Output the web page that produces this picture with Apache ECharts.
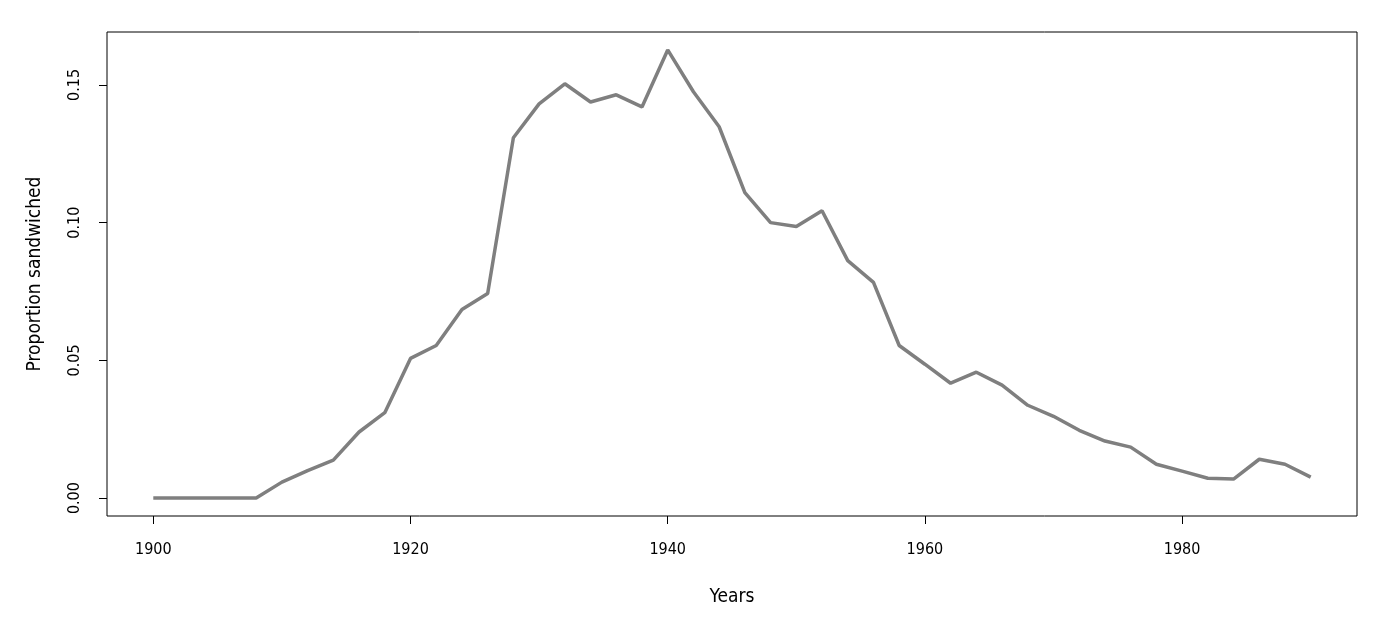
<!DOCTYPE html>
<html><head><meta charset="utf-8">
<script src="https://cdn.jsdelivr.net/npm/echarts@6/dist/echarts.min.js"></script>
<style>html,body{margin:0;background:#fff}#c{width:1394px;height:626px}</style>
</head><body><div id="c"></div>
<script>
const years=[1900,1902,1904,1906,1908,1910,1912,1914,1916,1918,1920,1922,1924,1926,1928,1930,1932,1934,1936,1938,1940,1942,1944,1946,1948,1950,1952,1954,1956,1958,1960,1962,1964,1966,1968,1970,1972,1974,1976,1978,1980,1982,1984,1986,1988,1990];
const proportion=[0,0,0,0,0,0.0058,0.010,0.0138,0.024,0.031,0.0507,0.0554,0.0685,0.0743,0.1308,0.1431,0.1504,0.1438,0.1464,0.142,0.1627,0.1475,0.1348,0.1109,0.100,0.0986,0.1043,0.0862,0.0783,0.0554,0.0486,0.0417,0.0457,0.041,0.0337,0.0297,0.0246,0.0207,0.0185,0.0123,0.0098,0.0072,0.0069,0.0141,0.0123,0.0076];
const xTicks=[1900,1920,1940,1960,1980];
const yTicks=[0,0.05,0.10,0.15];
const font='"Liberation Sans Narrow","DejaVu Sans Condensed",sans-serif';
const chart=echarts.init(document.getElementById('c'));
chart.setOption({
 animation:false,
 grid:{left:107,right:37,top:32,bottom:110,show:true,borderColor:'#000',borderWidth:1},
 xAxis:{type:'value',min:1896.4,max:1993.6,name:'Years',nameLocation:'middle',nameGap:72,
  nameTextStyle:{fontFamily:font,fontSize:19,color:'#000'},
  axisLine:{show:false,onZero:false},splitLine:{show:false},
  axisTick:{show:true,length:8,customValues:xTicks,lineStyle:{color:'#000'}},
  axisLabel:{customValues:xTicks,fontFamily:font,fontSize:16,color:'#000',margin:26,formatter:v=>String(v)}},
 yAxis:{type:'value',min:-0.0065,max:0.1692,name:'Proportion sandwiched',nameLocation:'middle',nameGap:62,
  nameTextStyle:{fontFamily:font,fontSize:19,color:'#000'},
  axisLine:{show:false,onZero:false},splitLine:{show:false},
  axisTick:{show:true,length:8,customValues:yTicks,lineStyle:{color:'#000'}},
  axisLabel:{customValues:yTicks,rotate:90,fontFamily:font,fontSize:16,color:'#000',margin:24,formatter:v=>v.toFixed(2)}},
 series:[{type:'line',data:years.map((y,i)=>[y,proportion[i]]),symbol:'none',
  lineStyle:{color:'#7f7f7f',width:3.5}}]
});
</script></body></html>
